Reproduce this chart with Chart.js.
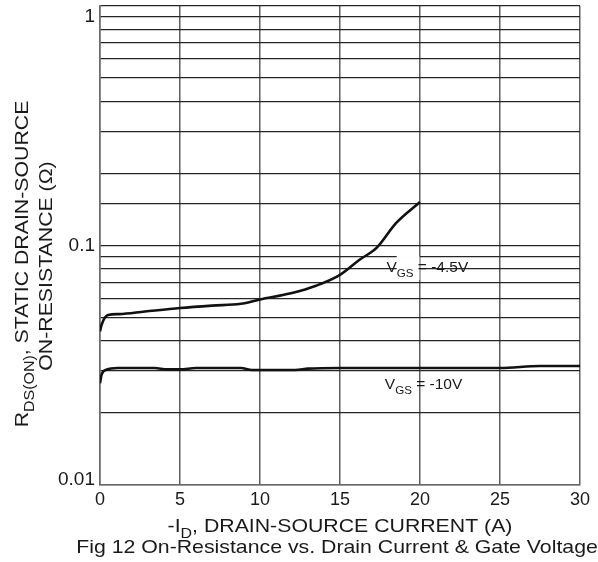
<!DOCTYPE html>
<html>
<head>
<meta charset="utf-8">
<script src="https://cdn.jsdelivr.net/npm/chart.js@4.4.1/dist/chart.umd.min.js"></script>
<style>
  body { margin: 0; background: #fff; }
</style>
</head>
<body>
<canvas id="chart" width="598" height="562"></canvas>
<script>
// drain current (A) and on-resistance (ohm)
const currentVgs45 = [0, 0.1, 0.5, 1.2, 2.8, 5, 7, 8.8, 10, 12, 13.5, 15, 16.2, 17.3, 18.5, 20];
const resVgs45 = [0.0438, 0.0467, 0.0513, 0.0517, 0.053, 0.0548, 0.0561, 0.0571, 0.0595, 0.0633, 0.0679, 0.0754, 0.087, 0.098, 0.124, 0.152];

const currentVgs10 = [0, 0.1, 0.4, 1.1, 3.4, 4.2, 5, 6, 8.8, 9.5, 12.2, 13, 15, 20, 25, 27.5, 30];
const resVgs10 = [0.0266, 0.0289, 0.0303, 0.0308, 0.0308, 0.0304, 0.0304, 0.0308, 0.0308, 0.0302, 0.0302, 0.0306, 0.0308, 0.0308, 0.0308, 0.0314, 0.0314];

const xTicks = [0, 5, 10, 15, 20, 25, 30];
const yTickLabels = ['1', '0.1', '0.01'];

const FONT = '"Liberation Sans", Arial, sans-serif';
const STRETCH = 1.12; // titles in the figure are a little wide

function toPoints(xs, ys) {
    return xs.map(function (x, i) { return { x: x, y: ys[i] }; });
}

// text with subscripts: parts = [[text, isSub], ...]
function partsWidth(ctx, parts, size) {
    let w = 0;
    parts.forEach(function (p) {
        ctx.font = (p[1] ? size * 0.75 : size) + 'px ' + FONT;
        w += ctx.measureText(p[0]).width;
    });
    return w;
}
function drawParts(ctx, parts, x, y, size) {
    parts.forEach(function (p) {
        ctx.font = (p[1] ? size * 0.75 : size) + 'px ' + FONT;
        ctx.fillText(p[0], x, p[1] ? y + size * 0.3 : y);
        x += ctx.measureText(p[0]).width;
    });
}
// centred, horizontally stretched
function drawWide(ctx, parts, cx, y, size) {
    ctx.save();
    ctx.translate(cx, y);
    ctx.scale(STRETCH, 1);
    ctx.textAlign = 'left';
    const w = partsWidth(ctx, parts, size);
    drawParts(ctx, parts, -w / 2, 0, size);
    ctx.restore();
}

const textPlugin = {
    id: 'texts',
    beforeDatasetsDraw(chart) {
        const ctx = chart.ctx;
        const xs = chart.scales.x, ys = chart.scales.y;
        ctx.save();
        ctx.textBaseline = 'alphabetic';
        ctx.textAlign = 'left';
        // curve labels
        const labels = [
            { x: 17.9, y: 0.0775, parts: [['V', false], ['GS', true], [' = -4.5V', false]] },
            { x: 17.8, y: 0.0251, parts: [['V', false], ['GS', true], [' = -10V', false]] }
        ];
        labels.forEach(function (l) {
            const px = xs.getPixelForValue(l.x), py = ys.getPixelForValue(l.y);
            ctx.font = '15.5px ' + FONT;
            const vw = ctx.measureText('V').width;
            ctx.font = '11.6px ' + FONT;
            const gw = ctx.measureText('GS').width;
            ctx.fillStyle = '#fff';
            ctx.fillRect(px + vw, py - 16, gw + 6, 24);
            ctx.fillStyle = '#1a1a1a';
            drawParts(ctx, l.parts, px, py, 15.5);
        });
        ctx.restore();
    },
    afterDraw(chart) {
        const ctx = chart.ctx;
        const xs = chart.scales.x, ys = chart.scales.y;
        ctx.save();
        ctx.fillStyle = '#1a1a1a';
        // x tick labels
        ctx.font = '18px ' + FONT;
        ctx.textAlign = 'center';
        ctx.textBaseline = 'alphabetic';
        xTicks.forEach(function (v) {
            ctx.fillText(String(v), xs.getPixelForValue(v), 505);
        });
        // y tick labels
        ctx.font = '19px ' + FONT;
        ctx.textAlign = 'right';
        yTickLabels.forEach(function (t) {
            const py = ys.getPixelForValue(parseFloat(t));
            if (t === '1') {
                ctx.textBaseline = 'top';
                ctx.fillText(t, 95, py + 1);
            } else if (t === '0.01') {
                ctx.textBaseline = 'alphabetic';
                ctx.fillText(t, 95, py);
            } else {
                ctx.textBaseline = 'middle';
                ctx.fillText(t, 95, py);
            }
        });
        ctx.textBaseline = 'alphabetic';
        // x axis title
        drawWide(ctx, [['-I', false], ['D', true], [', DRAIN-SOURCE CURRENT (A)', false]], 340, 532, 19);
        // caption
        drawWide(ctx, [['Fig 12 On-Resistance vs. Drain Current & Gate Voltage', false]], 337, 553, 19);
        // y axis title
        ctx.translate(0, 264);
        ctx.rotate(-Math.PI / 2);
        drawWide(ctx, [['R', false], ['DS(ON)', true], [', STATIC DRAIN-SOURCE', false]], 0, 28, 19);
        drawWide(ctx, [['ON-RESISTANCE (\u03A9)', false]], -2, 52, 19);
        ctx.restore();
    }
};

const ctx = document.getElementById('chart');
new Chart(ctx, {
    type: 'line',
    data: {
        datasets: [
            {
                label: 'VGS = -4.5V',
                data: toPoints(currentVgs45, resVgs45),
                borderColor: '#111',
                borderWidth: 2.6,
                pointRadius: 0,
                cubicInterpolationMode: 'monotone'
            },
            {
                label: 'VGS = -10V',
                data: toPoints(currentVgs10, resVgs10),
                borderColor: '#111',
                borderWidth: 2.6,
                pointRadius: 0,
                cubicInterpolationMode: 'monotone'
            }
        ]
    },
    options: {
        responsive: false,
        animation: false,
        layout: { padding: { left: 100, top: 6, right: 18, bottom: 77 } },
        plugins: { legend: { display: false }, tooltip: { enabled: false } },
        scales: {
            x: {
                type: 'linear',
                min: 0,
                max: 30,
                ticks: { display: false, stepSize: 5 },
                grid: { color: '#5e5e5e', lineWidth: 1.5, drawTicks: false },
                border: { color: '#6a6a6a', width: 1.5 }
            },
            y: {
                type: 'logarithmic',
                min: 0.01,
                max: 1,
                ticks: { display: false },
                grid: { color: '#262626', lineWidth: 1.3, drawTicks: false },
                border: { color: '#6a6a6a', width: 1.5 }
            }
        }
    },
    plugins: [textPlugin]
});
</script>
</body>
</html>
